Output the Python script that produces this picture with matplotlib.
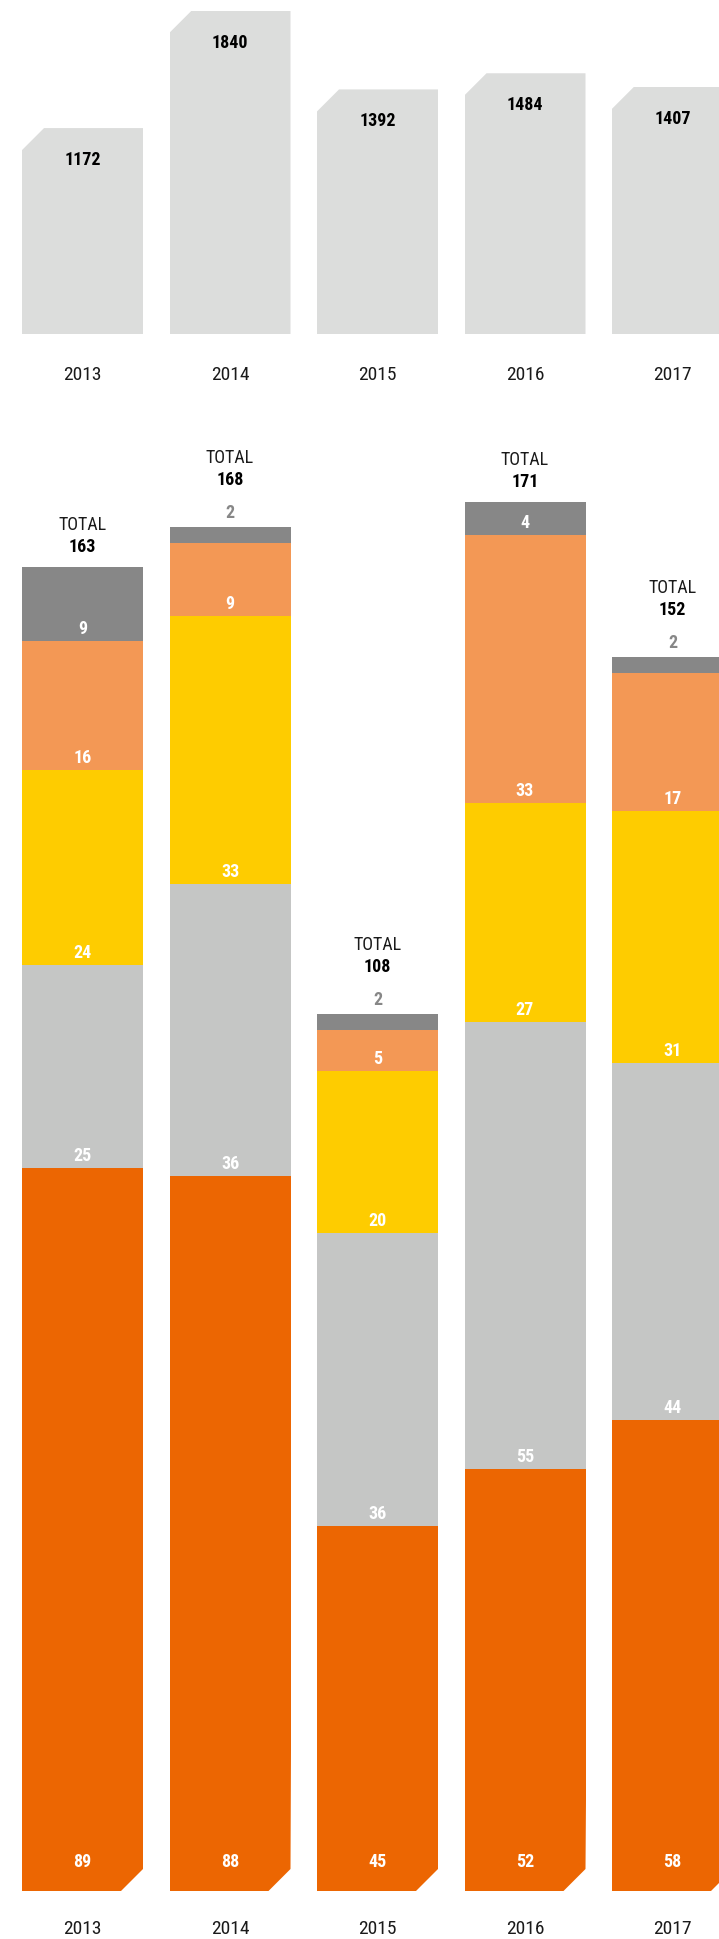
# 上下两个柱状图：上面是单柱，下面是堆叠柱
from matplotlib import pyplot as plt
from matplotlib import font_manager as fm
from matplotlib.path import Path

# 找一个窄体字体(要有粗体)
fonts = {}
for f in fm.fontManager.ttflist:
    w = f.weight if isinstance(f.weight, int) else 400
    fonts.setdefault(f.name, set()).add(w)
font = 'Liberation Sans'
for name in ['Roboto Condensed', 'PT Sans Narrow', 'Archivo Narrow', 'Fira Sans Condensed',
             'IBM Plex Sans Condensed', 'Barlow Semi Condensed', 'Liberation Sans Narrow']:
    if name in fonts and max(fonts[name]) >= 600:
        font = name
        break
plt.rcParams['font.family'] = [font, 'DejaVu Sans']

# 数据
years = ['2013', '2014', '2015', '2016', '2017']
top_values = [1172, 1840, 1392, 1484, 1407]

# 堆叠部分，从下到上
seg_orange = [89, 88, 45, 52, 58]
seg_gray = [25, 36, 36, 55, 44]
seg_yellow = [24, 33, 20, 27, 31]
seg_light = [16, 9, 5, 33, 17]
seg_dark = [9, 2, 2, 4, 2]
totals = [163, 168, 108, 171, 152]

colors = ['#EC6602', '#C5C6C5', '#FECC00', '#F39855', '#878787']
top_color = '#DCDDDC'

# 画布 719x1940 像素
W, H = 719, 1940
fig = plt.figure(figsize=(W / 100, H / 100), dpi=100)

step = 147.5      # 柱子间距(像素)
first = 82.5      # 第一根柱子中心
bar_w = 121 / step
cut = 22          # 切角大小(像素)
x = list(range(len(years)))
xlim = (-first / step, (W - first) / step)

# ---------------- 上图 ----------------
top_base = 335
top_scale = 0.1757  # 像素/单位
ax1 = fig.add_axes([0, (H - top_base) / H, 1, top_base / H])
ax1.set_xlim(*xlim)
ax1.set_ylim(0, top_base / top_scale)
bars = ax1.bar(x, top_values, width=bar_w, color=top_color, linewidth=0)
cx = cut / step
cy = cut / top_scale
for b in bars:
    x0, y1 = b.get_x(), b.get_height()
    x1 = x0 + b.get_width()
    clip = Path([(x0, 0), (x1, 0), (x1, y1), (x0 + cx, y1), (x0, y1 - cy), (x0, 0)])
    b.set_clip_path(clip, ax1.transData)
for i, v in enumerate(top_values):
    ax1.annotate(str(v), (i, v), xytext=(0, -31), textcoords='offset pixels',
                 ha='center', va='center', fontsize=13, fontweight='bold', color='black')
    ax1.annotate(years[i], (i, 0), xytext=(0, -40), textcoords='offset pixels',
                 ha='center', va='center', fontsize=14, color='#1a1a1a', annotation_clip=False)
ax1.axis('off')

# ---------------- 下图 ----------------
bot_base = 1892
bot_top = 400
bot_scale = 8.12
ax2 = fig.add_axes([0, (H - bot_base) / H, 1, (bot_base - bot_top) / H])
ax2.set_xlim(*xlim)
ax2.set_ylim(0, (bot_base - bot_top) / bot_scale)

series = [seg_orange, seg_gray, seg_yellow, seg_light, seg_dark]
bottom = [0] * len(years)
cy2 = cut / bot_scale
for k, s in enumerate(series):
    bars = ax2.bar(x, s, width=bar_w, bottom=bottom, color=colors[k], linewidth=0)
    if k == 0:
        # 最下面一段右下角切角
        for b in bars:
            x0, y1 = b.get_x(), b.get_height()
            x1 = x0 + b.get_width()
            clip = Path([(x0 - 0.02, -1), (x1 - cx, -1), (x1 - cx, 0), (x1, cy2),
                         (x1 + 0.02, y1 + 1), (x0 - 0.02, y1 + 1), (x0 - 0.02, -1)])
            b.set_clip_path(clip, ax2.transData)
    for i, v in enumerate(s):
        if v * bot_scale < 25:
            # 太小的放在柱子上面，灰色
            ax2.annotate(str(v), (i, totals[i]), xytext=(0, 15), textcoords='offset pixels',
                         ha='center', va='center', fontsize=13, fontweight='bold', color='#878787')
        else:
            off = 30 if k == 0 else 13
            ax2.annotate(str(v), (i, bottom[i]), xytext=(0, off), textcoords='offset pixels',
                         ha='center', va='center', fontsize=13, fontweight='bold', color='white')
    bottom = [bottom[i] + s[i] for i in range(len(s))]

for i, t in enumerate(totals):
    small = series[-1][i] * bot_scale < 25
    n_off = 48 if small else 21
    ax2.annotate(str(t), (i, t), xytext=(0, n_off), textcoords='offset pixels',
                 ha='center', va='center', fontsize=13, fontweight='bold', color='black')
    ax2.annotate('TOTAL', (i, t), xytext=(0, n_off + 22), textcoords='offset pixels',
                 ha='center', va='center', fontsize=13, color='#1a1a1a')
    ax2.annotate(years[i], (i, 0), xytext=(0, -37), textcoords='offset pixels',
                 ha='center', va='center', fontsize=14, color='#1a1a1a', annotation_clip=False)
ax2.axis('off')

plt.savefig('out.png', dpi=100)
